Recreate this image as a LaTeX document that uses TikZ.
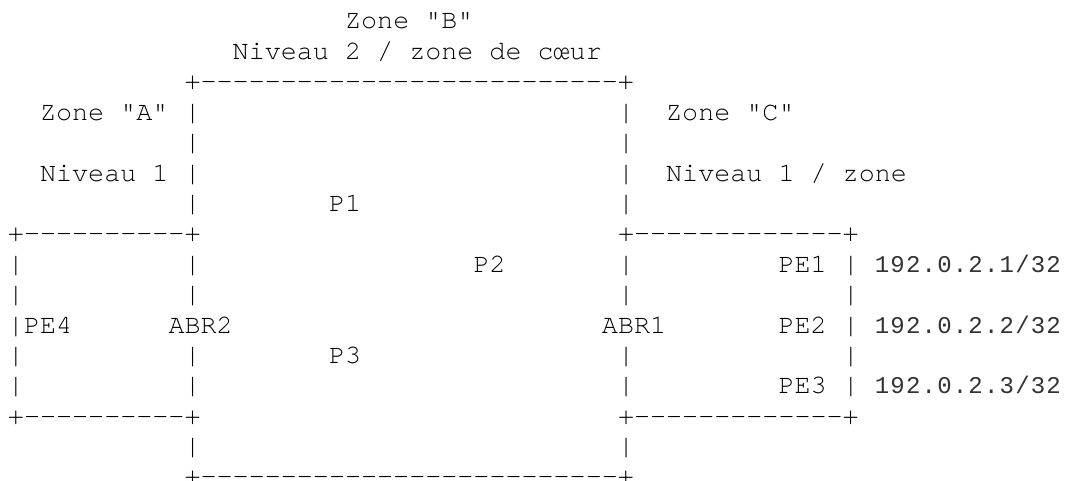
\documentclass[tikz,border=0pt]{standalone}
\usepackage{fontspec}
\setmonofont{TeX Gyre Cursor}
\newfontfamily\ipfont{Liberation Mono}[LetterSpace=5]
\usepackage{tikz}
\newcommand{\asciisize}{\fontsize{20.06pt}{22.8pt}\selectfont}
\newcommand{\ipsize}{\fontsize{18pt}{22.8pt}\selectfont}

\begin{document}
\begin{tikzpicture}[
    x=12.04pt, y=-22.8pt,
    ascii_text/.style={anchor=base west, inner sep=0pt, outer sep=0pt, font=\ttfamily\asciisize, text=black},
    ip_text/.style={anchor=base west, inner sep=0pt, outer sep=0pt, font=\ipfont\ipsize, text=black!80}
]
  \useasboundingbox (-0.498,0.046) rectangle (65.905,15.868);

  % Zone B: core area, title and frame
  \node[ascii_text] (zone_b) at (21,1) {Zone "B"};
  \node[ascii_text] (lvl_b) at (14,2) {Niveau 2 / zone de cœur};
  \node[ascii_text] (top_b) at (11,3) {+--------------------------+};
  \node[ascii_text] (bot_b) at (11,15.97) {+--------------------------+};
  \foreach \r in {4,5,6,7,9,10,12,13,15} {
    \node[ascii_text] (bar_bl_\r) at (11,\r) {|};
    \node[ascii_text] (bar_br_\r) at (38,\r) {|};
  }

  % Zone A and zone C titles
  \node[ascii_text] (zone_a) at (2,4) {Zone "A"};
  \node[ascii_text] (lvl_a) at (2,6) {Niveau 1};
  \node[ascii_text] (zone_c) at (41,4) {Zone "C"};
  \node[ascii_text] (lvl_c) at (41,6) {Niveau 1 / zone};

  % Zone A and zone C frames
  \node[ascii_text] (top_a) at (0,8) {+----------+};
  \node[ascii_text] (bot_a) at (0,14) {+----------+};
  \node[ascii_text] (top_c) at (38,8) {+-------------+};
  \node[ascii_text] (bot_c) at (38,14) {+-------------+};
  \foreach \r in {9,...,13} {
    \node[ascii_text] (bar_a_\r) at (0,\r) {|};
    \node[ascii_text] (bar_c_\r) at (52,\r) {|};
  }

  % Routers
  \node[ascii_text] (p1) at (20,7) {P1};
  \node[ascii_text] (p2) at (29,9) {P2};
  \node[ascii_text] (p3) at (20,12) {P3};
  \node[ascii_text] (pe4) at (1,11) {PE4};
  \node[ascii_text] (abr2) at (10,11) {ABR2};
  \node[ascii_text] (abr1) at (37,11) {ABR1};
  \node[ascii_text] (pe1) at (48,9) {PE1};
  \node[ascii_text] (pe2) at (48,11) {PE2};
  \node[ascii_text] (pe3) at (48,13) {PE3};

  % Loopback addresses
  \node[ip_text] (ip_pe1) at (54,9) {192.0.2.1/32};
  \node[ip_text] (ip_pe2) at (54,11) {192.0.2.2/32};
  \node[ip_text] (ip_pe3) at (54,13) {192.0.2.3/32};

\end{tikzpicture}
\end{document}
